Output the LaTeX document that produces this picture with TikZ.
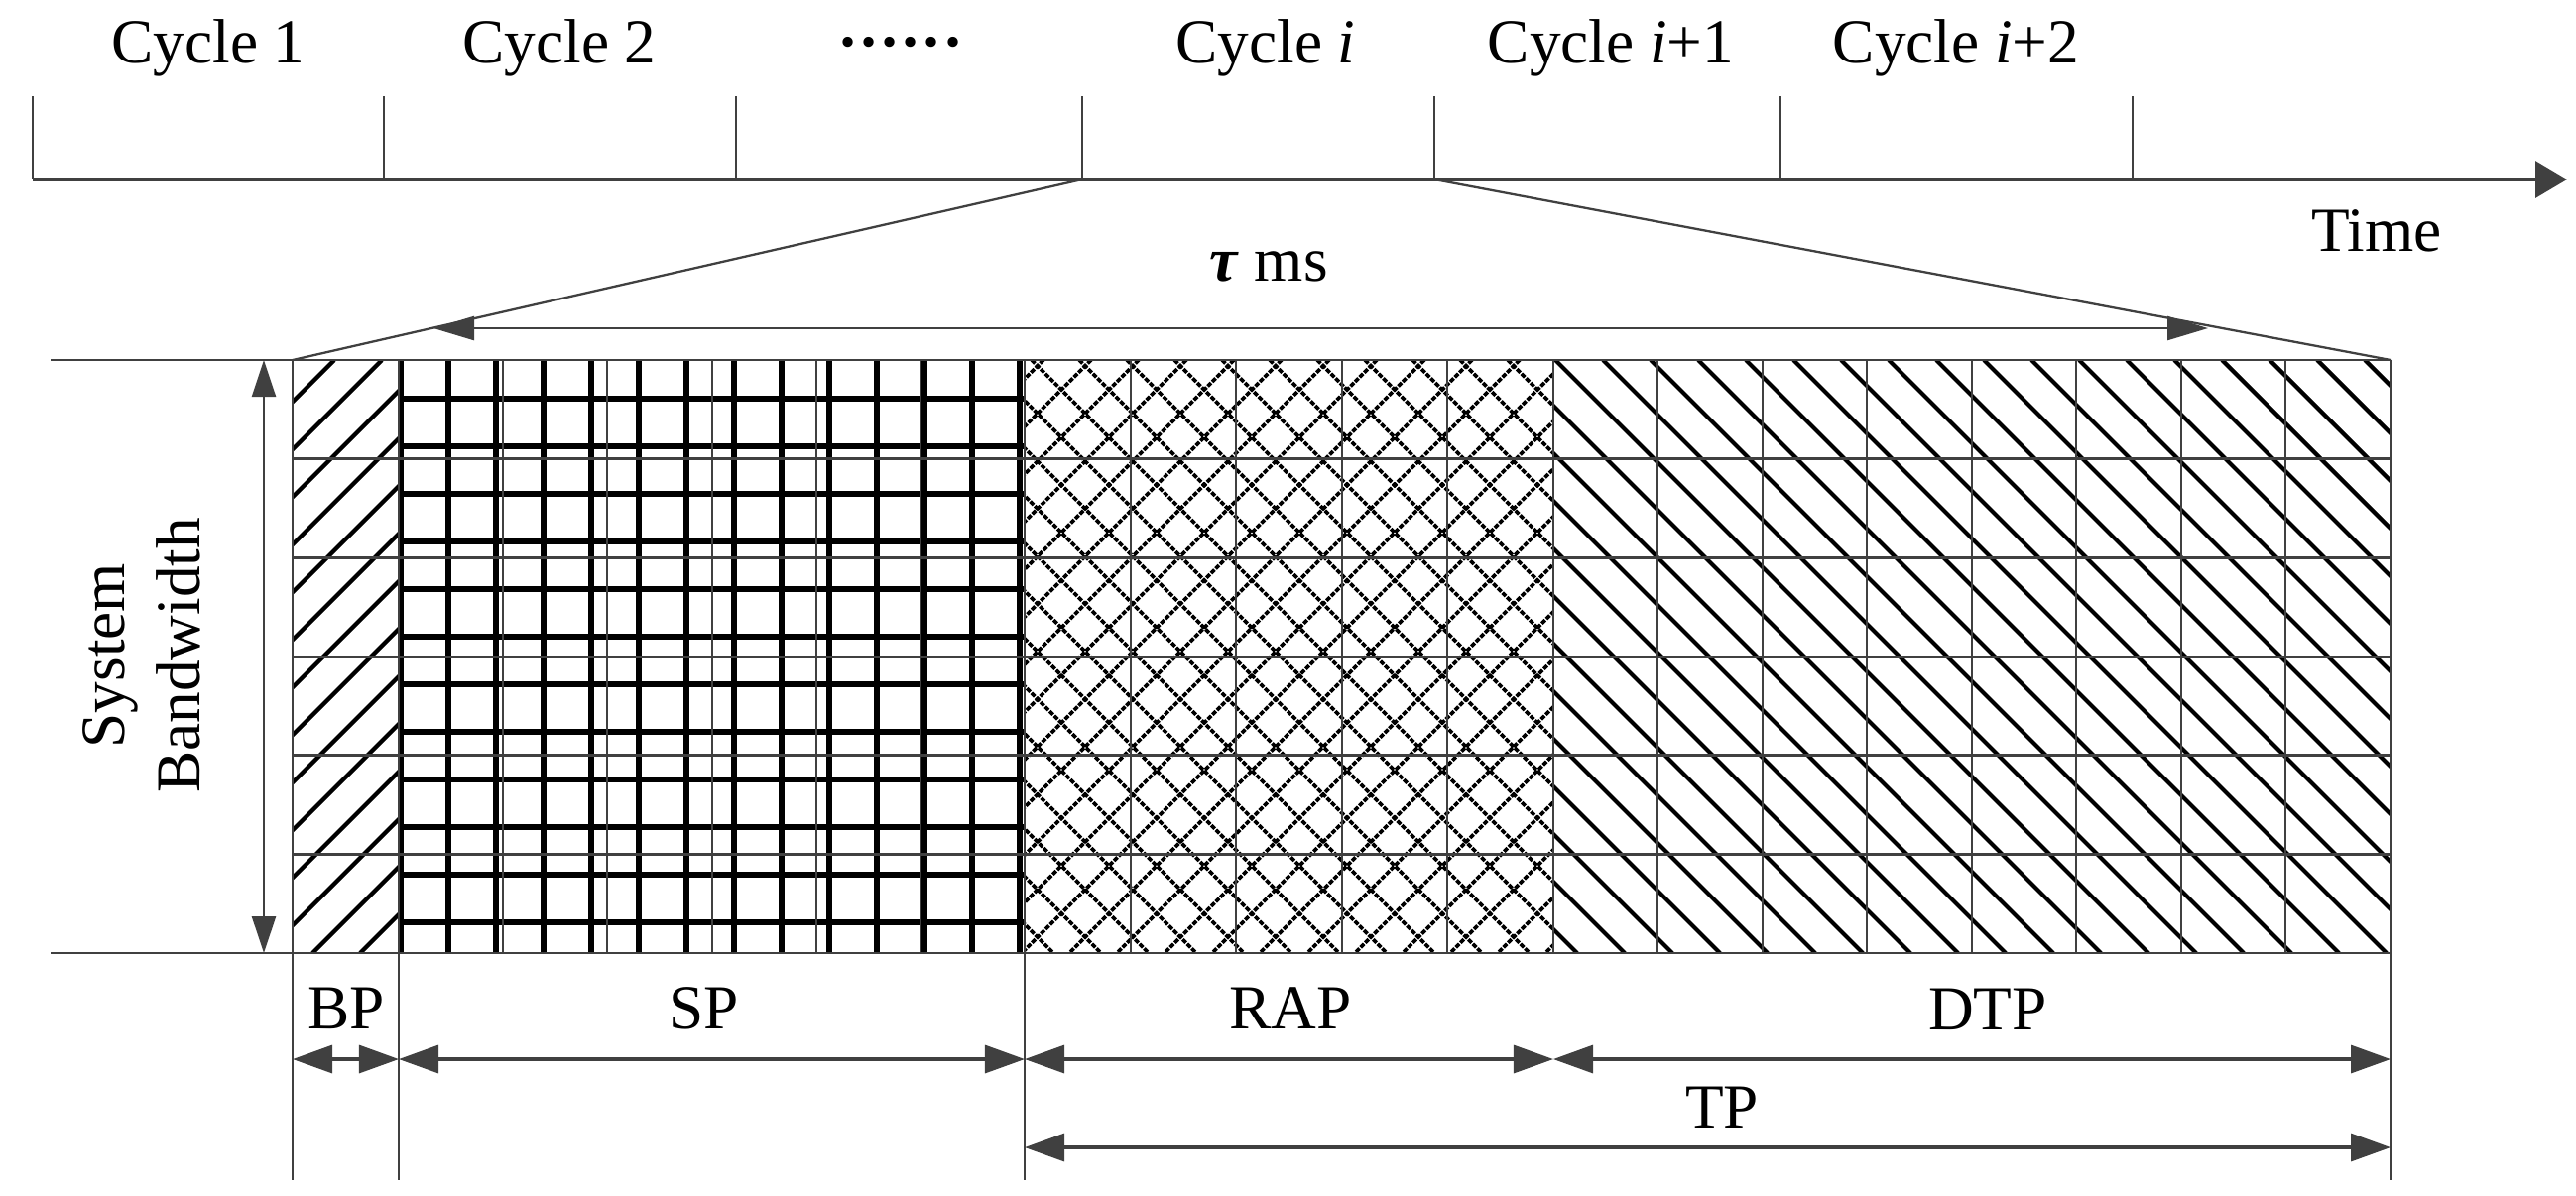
\documentclass[tikz,border=0pt]{standalone}
\usepackage{fontspec}
\setmainfont{Liberation Serif}
\usetikzlibrary{arrows.meta}
\definecolor{lc}{RGB}{64,64,64}
\begin{document}
\begin{tikzpicture}[x=0.01cm,y=-0.01cm,
  font=\fontsize{18}{21.6}\selectfont,
  lab/.style={anchor=base, inner sep=0pt},
  thinln/.style={lc, line width=0.45pt},
  rowln/.style={lc, line width=0.7pt},
  hatchln/.style={black, line width=1.2pt},
  diamln/.style={black, line width=1.05pt, dash pattern=on 1.4pt off 0.45pt},
  gridln/.style={black, line width=1.6pt},
  dimarrow/.style={lc, line width=0.9pt, {Triangle[length=0.40cm,width=0.28cm]}-{Triangle[length=0.40cm,width=0.28cm]}},
  tauarrow/.style={lc, line width=0.7pt, {Triangle[length=0.41cm,width=0.24cm]}-{Triangle[length=0.41cm,width=0.24cm]}},
  bwarrow/.style={lc, line width=0.7pt, {Triangle[length=0.37cm,width=0.24cm]}-{Triangle[length=0.37cm,width=0.24cm]}}]
\useasboundingbox (0,0) rectangle (2597,1205);

% ---------- time axis ----------
\coordinate (ax0) at (33,181);
\coordinate (ax1) at (2588,181);
\foreach \x [count=\i] in {33,387,742,1091,1446,1795,2150}{
  \coordinate (tt\i) at (\x,97);
  \coordinate (tb\i) at (\x,181);
  \draw[thinln] (tt\i) -- (tb\i);
}
\draw[lc, line width=0.95pt, -{Triangle[length=0.32cm,width=0.37cm]}] (ax0) -- (ax1);

\node[lab] (c1) at (210,63) {Cycle 1};
\node[lab] (c2) at (564,63) {Cycle 2};
\node[lab] (cd) at (908,63) {\textbf{······}};
\node[lab] (ci) at (1276,63) {Cycle \textit{i}};
\node[lab] (ci1) at (1624,63) {Cycle \textit{i}+1};
\node[lab] (ci2) at (1972,63) {Cycle \textit{i}+2};
\node[lab] (time) at (2396,253) {Time};

% ---------- grid corners ----------
\coordinate (Gtl) at (295,363);
\coordinate (Gtr) at (2410,363);
\coordinate (Gbl) at (295,961);
\coordinate (Gbr) at (2410,961);

% zoom lines
\draw[lc, line width=0.65pt] (tb4) -- (Gtl);
\draw[lc, line width=0.65pt] (tb5) -- (Gtr);

% tau arrow
\coordinate (tauL) at (437,331);
\coordinate (tauR) at (2226,331);
\draw[tauarrow] (tauL) -- (tauR);
\node[lab] (tau) at (1279,283) {\textit{\textbf{τ}} ms};

% ---------- hatch patterns ----------
% BP: / lines
\begin{scope}
\clip (295,363) rectangle (402,961);
\foreach \c in {604,652,...,1420}
  \draw[hatchln] ({\c-363},363) -- ({\c-961},961);
\end{scope}
% SP: thick grid
\begin{scope}
\clip (402,363) rectangle (1033,961);
\foreach \x in {404,452,...,1030}
  \draw[gridln] (\x,363) -- (\x,961);
\foreach \y in {402,450,...,950}
  \draw[gridln] (402,\y) -- (1033,\y);
\end{scope}
% RAP: diamonds
\begin{scope}
\clip (1033,363) rectangle (1566,961);
\foreach \c in {1367,1415,...,2570}
  \draw[diamln] ({\c-363},363) -- ({\c-961},961);
\foreach \c in {53,101,...,1260}
  \draw[diamln] ({\c+363},363) -- ({\c+961},961);
\end{scope}
% DTP: \ lines
\begin{scope}
\clip (1566,363) rectangle (2410,961);
\foreach \c in {581,629,...,2070}
  \draw[hatchln] ({\c+363},363) -- ({\c+961},961);
\end{scope}

% ---------- cell grid ----------
\foreach \x in {507,612,718,823,928,1140,1246,1353,1459,1671,1777,1882,1988,2093,2199,2304}
  \draw[thinln] (\x,363) -- (\x,961);
\draw[lc, line width=0.55pt] (1566,363) -- (1566,961);
\foreach \k in {1,...,5}
  \draw[rowln] (295,{363+99.667*\k}) -- (2410,{363+99.667*\k});
\coordinate (ltop) at (51,363);
\coordinate (lbot) at (51,961);
\draw[rowln] (ltop) -- (Gtr);
\draw[rowln] (lbot) -- (Gbr);

% extension lines below
\coordinate (e1) at (295,1190);
\coordinate (e2) at (402,1190);
\coordinate (e3) at (1033,1190);
\coordinate (e4) at (2410,1190);
\draw[rowln] (Gtl) -- (e1);
\draw[lc, line width=0.6pt] (402,363) -- (e2);
\draw[lc, line width=0.6pt] (1033,363) -- (e3);
\draw[rowln] (Gtr) -- (e4);

% bandwidth arrow
\coordinate (bwT) at (266,363);
\coordinate (bwB) at (266,961);
\draw[bwarrow] (bwB) -- (bwT);
\node[rotate=90, align=center, inner sep=0pt] (bw) at (143,661) {System\\Bandwidth};

% ---------- dimension arrows ----------
\coordinate (d1) at (295,1068);
\coordinate (d2) at (402,1068);
\coordinate (d3) at (1033,1068);
\coordinate (d4) at (1566,1068);
\coordinate (d5) at (2410,1068);
\coordinate (p1) at (1033,1157);
\coordinate (p2) at (2410,1157);
\draw[dimarrow] (d1) -- (d2);
\draw[dimarrow] (d2) -- (d3);
\draw[dimarrow] (d3) -- (d4);
\draw[dimarrow] (d4) -- (d5);
\draw[dimarrow] (p1) -- (p2);

\node[lab] (bp) at (349,1037) {BP};
\node[lab] (sp) at (710,1037) {SP};
\node[lab] (rap) at (1301,1037) {RAP};
\node[lab] (dtp) at (2004,1038) {DTP};
\node[lab] (tp) at (1736,1137) {TP};
\end{tikzpicture}
\end{document}
